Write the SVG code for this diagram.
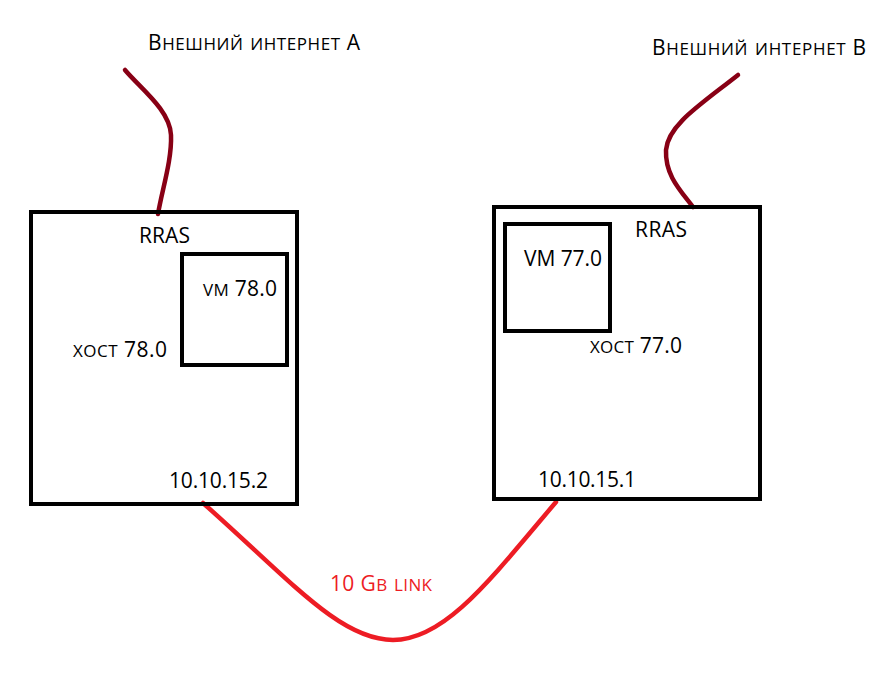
<svg xmlns="http://www.w3.org/2000/svg" width="894" height="674" viewBox="0 0 894 674">
<style>
text { font-family: "Open Sans", "Noto Sans", "DejaVu Sans", sans-serif; font-size: 21px; fill: #000; font-variant: small-caps; }
.sc { font-size: 24px; }
.box { fill: none; stroke: #000; stroke-width: 4; }
.wan { fill: none; stroke: #880015; stroke-width: 4.5; stroke-linecap: round; }
.lan { fill: none; stroke: #ed1c24; stroke-width: 4.5; stroke-linecap: round; }
.red { fill: #ed1c24; }
</style>
<rect width="894" height="674" fill="#fff"/>
<g id="connectors">
  <path class="wan" d="M125,70 C140,88 170,110 171,135 C172,160 162,190 158,214"/>
  <path class="wan" d="M738,75 C700,105 668,125 666,150 C665,175 680,190 693,207"/>
  <path class="lan" d="M203,503 C290,580 340,640 393,640 C445,640 490,580 556,502"/>
  <text class="red" x="330" y="591" textLength="102" lengthAdjust="spacing">10 G<tspan class="sc">b link</tspan></text>
</g>
<g id="inet-a"><text x="148" y="50" textLength="212" lengthAdjust="spacing">В<tspan class="sc">нешний интернет</tspan> А</text></g>
<g id="inet-b"><text x="652" y="55" textLength="214" lengthAdjust="spacing">В<tspan class="sc">нешний интернет</tspan> В</text></g>
<g id="host-78">
  <rect class="box" x="31" y="212" width="266" height="292"/>
  <text x="139" y="243" textLength="51" lengthAdjust="spacing">RRAS</text>
  <text x="73" y="357" textLength="94" lengthAdjust="spacing"><tspan class="sc">хост</tspan> 78.0</text>
  <text x="169" y="488" textLength="99" lengthAdjust="spacing">10.10.15.2</text>
</g>
<g id="vm-78">
  <rect class="box" x="182" y="254" width="105" height="111"/>
  <text x="203" y="296" textLength="74" lengthAdjust="spacing"><tspan class="sc">vm</tspan> 78.0</text>
</g>
<g id="host-77">
  <rect class="box" x="494" y="207" width="266" height="292"/>
  <text x="635" y="237" textLength="52" lengthAdjust="spacing">RRAS</text>
  <text x="590" y="353" textLength="92" lengthAdjust="spacing"><tspan class="sc">хост</tspan> 77.0</text>
  <text x="538" y="487" textLength="98" lengthAdjust="spacing">10.10.15.1</text>
</g>
<g id="vm-77">
  <rect class="box" x="505" y="224" width="105" height="107"/>
  <text x="524" y="266" textLength="78" lengthAdjust="spacing">VM 77.0</text>
</g>
</svg>
